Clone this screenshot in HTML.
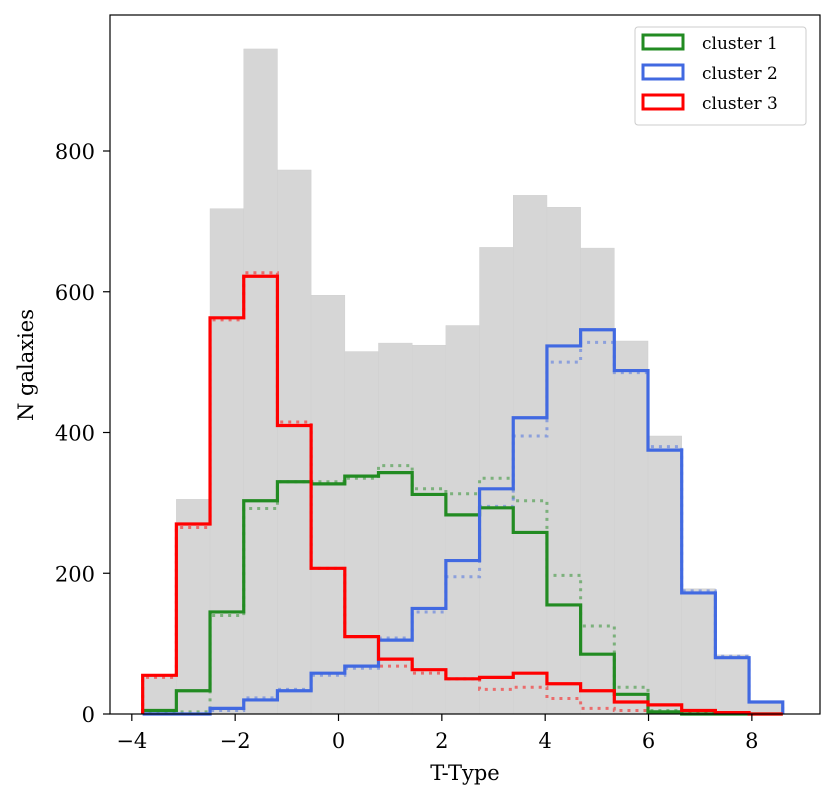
<!DOCTYPE html>
<html><head><meta charset="utf-8">
<style>
html,body{margin:0;padding:0;background:#fff;}
svg text{font-family:"DejaVu Serif","Liberation Serif",serif;fill:#000;}
</style></head>
<body>
<svg id="chart" width="830" height="802" xmlns="http://www.w3.org/2000/svg">
<g id="bars"></g>
<g id="lines"></g>
<rect x="110" y="15" width="710" height="699" fill="none" stroke="#000" stroke-width="1.2"/>
<g id="axes"></g>
<text x="465" y="780" font-size="21" text-anchor="middle">T-Type</text>
<text transform="translate(33,365) rotate(-90)" font-size="21" text-anchor="middle">N galaxies</text>
<g>
<rect x="635" y="27" width="171" height="98" rx="3" fill="#fff" fill-opacity="0.85" stroke="#ccc"/>
<g><rect x="643" y="35" width="40" height="14" fill="none" stroke="#228b22" stroke-width="3"/><text x="702" y="49" font-size="17">cluster 1</text></g>
<g><rect x="643" y="65" width="40" height="14" fill="none" stroke="#4169e1" stroke-width="3"/><text x="702" y="79" font-size="17">cluster 2</text></g>
<g><rect x="643" y="95" width="40" height="14" fill="none" stroke="#ff0000" stroke-width="3"/><text x="702" y="109" font-size="17">cluster 3</text></g>
</g>
</svg>
<script>
const binStart = -3.79;
const binWidth = 0.652;
const totalCounts = [55,305,718,945,773,595,515,527,524,552,663,737,720,662,530,395,178,84,18];
const cluster1 = [5,33,145,303,330,327,338,343,312,283,293,258,155,85,28,3,0,0,0];
const cluster2 = [0,0,8,20,33,58,68,105,150,218,320,421,523,546,488,375,172,80,17];
const cluster3 = [55,270,563,622,410,207,110,78,63,50,52,58,43,33,17,13,5,2,0];
const cluster1Dotted = [3,3,140,292,330,330,335,353,320,313,335,303,197,125,38,5,2,0,0];
const cluster2Dotted = [0,0,5,23,35,55,65,108,145,195,295,395,500,528,485,380,175,82,17];
const cluster3Dotted = [52,265,560,627,415,207,110,68,58,50,35,38,22,8,5,2,1,0,0];
const xTicks = [-4,-2,0,2,4,6,8];
const yTicks = [0,200,400,600,800];

const NS='http://www.w3.org/2000/svg';
function X(v){return 338.5+v*51.67;}
function Y(v){return 714-v*0.70375;}
const bars=document.getElementById('bars');
totalCounts.forEach((c,i)=>{
  const r=document.createElementNS(NS,'rect');
  const x0=X(binStart+i*binWidth), x1=X(binStart+(i+1)*binWidth);
  r.setAttribute('x',x0);r.setAttribute('width',x1-x0);
  r.setAttribute('y',Y(c));r.setAttribute('height',Y(0)-Y(c));
  r.setAttribute('fill','#d6d6d6');r.setAttribute('stroke','#d0d0d0');r.setAttribute('stroke-width','0.5');
  
  
  bars.appendChild(r);
});
function stepPath(arr){
  let d='M'+X(binStart)+','+Y(0);
  arr.forEach((c,i)=>{
    d+=' L'+X(binStart+i*binWidth)+','+Y(c)+' L'+X(binStart+(i+1)*binWidth)+','+Y(c);
  });
  d+=' L'+X(binStart+arr.length*binWidth)+','+Y(0);
  return d;
}
const lines=document.getElementById('lines');
function addLine(arr,color,dotted,name){
  const p=document.createElementNS(NS,'path');
  p.setAttribute('d',stepPath(arr));
  p.setAttribute('fill','none');p.setAttribute('stroke',color);
  if(dotted){p.setAttribute('stroke-width','3');p.setAttribute('stroke-dasharray','3 5');p.setAttribute('stroke-opacity','0.5');}
  else{p.setAttribute('stroke-width','3.2');}
  
  
  lines.appendChild(p);
}
addLine(cluster1Dotted,'#228b22',true,'cluster-1-dotted-line');
addLine(cluster2Dotted,'#4169e1',true,'cluster-2-dotted-line');
addLine(cluster3Dotted,'#ff0000',true,'cluster-3-dotted-line');
addLine(cluster1,'#228b22',false,'cluster-1-line');
addLine(cluster2,'#4169e1',false,'cluster-2-line');
addLine(cluster3,'#ff0000',false,'cluster-3-line');
const axes=document.getElementById('axes');
xTicks.forEach(t=>{
  const l=document.createElementNS(NS,'line');
  l.setAttribute('x1',X(t));l.setAttribute('x2',X(t));l.setAttribute('y1',714);l.setAttribute('y2',721);
  l.setAttribute('stroke','#000');l.setAttribute('stroke-width','1.2');
  
  
  axes.appendChild(l);
  const tx=document.createElementNS(NS,'text');
  tx.setAttribute('x',X(t));tx.setAttribute('y',748);tx.setAttribute('font-size','21');tx.setAttribute('text-anchor','middle');
  tx.textContent=(t<0?'\u2212'+(-t):String(t));
  
  
  axes.appendChild(tx);
});
yTicks.forEach(t=>{
  const l=document.createElementNS(NS,'line');
  l.setAttribute('x1',103);l.setAttribute('x2',110);l.setAttribute('y1',Y(t));l.setAttribute('y2',Y(t));
  l.setAttribute('stroke','#000');l.setAttribute('stroke-width','1.2');
  
  
  axes.appendChild(l);
  const tx=document.createElementNS(NS,'text');
  tx.setAttribute('x',95);tx.setAttribute('y',Y(t)+8);tx.setAttribute('font-size','21');tx.setAttribute('text-anchor','end');
  tx.textContent=String(t);
  
  
  axes.appendChild(tx);
});
</script>
</body></html>
